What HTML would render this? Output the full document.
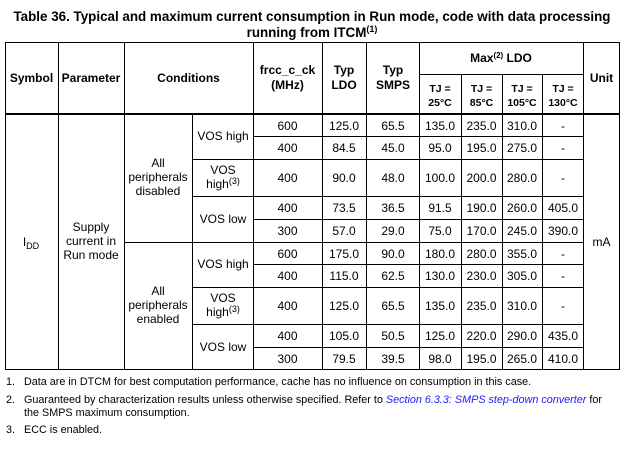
<!DOCTYPE html>
<html><head><meta charset="utf-8"><style>
html,body{margin:0;padding:0;background:#fff;}
svg{display:block;}
text{font-family:"Liberation Sans",Arial,sans-serif;fill:#000;}
.b{font-weight:bold;}
.t{font-size:12px;}
.f{font-size:10.8px;}
</style></head><body>
<svg width="629" height="451" xmlns="http://www.w3.org/2000/svg">
<text class="b" x="312" y="21" font-size="13.4" text-anchor="middle">Table 36. Typical and maximum current consumption in Run mode, code with data processing</text>
<text class="b" x="312" y="37" font-size="13.4" text-anchor="middle">running from ITCM<tspan font-size="9" dy="-5">(1)</tspan></text>
<g stroke="#000" stroke-width="1" shape-rendering="crispEdges">
<line x1="5" y1="42.5" x2="620" y2="42.5"/>
<line x1="419" y1="74.5" x2="583" y2="74.5"/>
<line x1="5" y1="114" x2="620" y2="114" stroke-width="2"/>
<line x1="253" y1="136.5" x2="583" y2="136.5"/>
<line x1="192" y1="159.5" x2="583" y2="159.5"/>
<line x1="192" y1="196.5" x2="583" y2="196.5"/>
<line x1="253" y1="219.5" x2="583" y2="219.5"/>
<line x1="124" y1="242.5" x2="583" y2="242.5"/>
<line x1="253" y1="264.5" x2="583" y2="264.5"/>
<line x1="192" y1="287.5" x2="583" y2="287.5"/>
<line x1="192" y1="324.5" x2="583" y2="324.5"/>
<line x1="253" y1="347.5" x2="583" y2="347.5"/>
<line x1="5" y1="369.5" x2="620" y2="369.5"/>
<line x1="5.5" y1="42" x2="5.5" y2="370"/>
<line x1="58.5" y1="42" x2="58.5" y2="370"/>
<line x1="124.5" y1="42" x2="124.5" y2="370"/>
<line x1="192.5" y1="114" x2="192.5" y2="370"/>
<line x1="253.5" y1="42" x2="253.5" y2="370"/>
<line x1="322.5" y1="42" x2="322.5" y2="370"/>
<line x1="366.5" y1="42" x2="366.5" y2="370"/>
<line x1="419.5" y1="42" x2="419.5" y2="370"/>
<line x1="461.5" y1="74" x2="461.5" y2="370"/>
<line x1="502.5" y1="74" x2="502.5" y2="370"/>
<line x1="542.5" y1="74" x2="542.5" y2="370"/>
<line x1="583.5" y1="42" x2="583.5" y2="370"/>
<line x1="619.5" y1="42" x2="619.5" y2="370"/>
</g>
<g class="t b" text-anchor="middle">
<text x="31.5" y="82">Symbol</text>
<text x="91" y="82">Parameter</text>
<text x="188.5" y="82">Conditions</text>
<text x="287.5" y="74">frcc_c_ck</text>
<text x="287.5" y="89">(MHz)</text>
<text x="344" y="74">Typ</text>
<text x="344" y="89">LDO</text>
<text x="393" y="74">Typ</text>
<text x="393" y="89">SMPS</text>
<text x="501" y="62">Max<tspan font-size="8" dy="-4">(2)</tspan><tspan dy="4"> LDO</tspan></text>
<text x="601.5" y="82">Unit</text>
</g>
<g class="b" font-size="10.5" text-anchor="middle">
<text x="440" y="92">TJ =</text><text x="440" y="106">25°C</text>
<text x="481.5" y="92">TJ =</text><text x="481.5" y="106">85°C</text>
<text x="522" y="92">TJ =</text><text x="522" y="106">105°C</text>
<text x="563" y="92">TJ =</text><text x="563" y="106">130°C</text>
</g>
<g class="t" text-anchor="middle">
<text x="31" y="246">I<tspan font-size="9" dy="3">DD</tspan></text>
<text x="91" y="231">Supply</text><text x="91" y="245">current in</text><text x="91" y="259">Run mode</text>
<text x="158" y="167">All</text><text x="158" y="181">peripherals</text><text x="158" y="195">disabled</text>
<text x="158" y="295">All</text><text x="158" y="309">peripherals</text><text x="158" y="323">enabled</text>
<text x="223" y="140">VOS high</text>
<text x="223" y="174">VOS</text><text x="223" y="188">high<tspan font-size="9" dy="-4">(3)</tspan></text>
<text x="223" y="223">VOS low</text>
<text x="223" y="268">VOS high</text>
<text x="223" y="302">VOS</text><text x="223" y="316">high<tspan font-size="9" dy="-4">(3)</tspan></text>
<text x="223" y="351">VOS low</text>
<text x="601.5" y="246">mA</text>
</g>
<g class="t" text-anchor="middle">
<g transform="translate(0,130)"><text x="287.5">600</text><text x="344">125.0</text><text x="393">65.5</text><text x="440">135.0</text><text x="481.5">235.0</text><text x="522">310.0</text><text x="563">-</text></g>
<g transform="translate(0,152)"><text x="287.5">400</text><text x="344">84.5</text><text x="393">45.0</text><text x="440">95.0</text><text x="481.5">195.0</text><text x="522">275.0</text><text x="563">-</text></g>
<g transform="translate(0,182)"><text x="287.5">400</text><text x="344">90.0</text><text x="393">48.0</text><text x="440">100.0</text><text x="481.5">200.0</text><text x="522">280.0</text><text x="563">-</text></g>
<g transform="translate(0,212)"><text x="287.5">400</text><text x="344">73.5</text><text x="393">36.5</text><text x="440">91.5</text><text x="481.5">190.0</text><text x="522">260.0</text><text x="563">405.0</text></g>
<g transform="translate(0,235)"><text x="287.5">300</text><text x="344">57.0</text><text x="393">29.0</text><text x="440">75.0</text><text x="481.5">170.0</text><text x="522">245.0</text><text x="563">390.0</text></g>
<g transform="translate(0,258)"><text x="287.5">600</text><text x="344">175.0</text><text x="393">90.0</text><text x="440">180.0</text><text x="481.5">280.0</text><text x="522">355.0</text><text x="563">-</text></g>
<g transform="translate(0,280)"><text x="287.5">400</text><text x="344">115.0</text><text x="393">62.5</text><text x="440">130.0</text><text x="481.5">230.0</text><text x="522">305.0</text><text x="563">-</text></g>
<g transform="translate(0,310)"><text x="287.5">400</text><text x="344">125.0</text><text x="393">65.5</text><text x="440">135.0</text><text x="481.5">235.0</text><text x="522">310.0</text><text x="563">-</text></g>
<g transform="translate(0,340)"><text x="287.5">400</text><text x="344">105.0</text><text x="393">50.5</text><text x="440">125.0</text><text x="481.5">220.0</text><text x="522">290.0</text><text x="563">435.0</text></g>
<g transform="translate(0,363)"><text x="287.5">300</text><text x="344">79.5</text><text x="393">39.5</text><text x="440">98.0</text><text x="481.5">195.0</text><text x="522">265.0</text><text x="563">410.0</text></g>
</g>
<g class="f">
<text x="6" y="385">1.</text><text x="24" y="385">Data are in DTCM for best computation performance, cache has no influence on consumption in this case.</text>
<text x="6" y="403">2.</text><text x="24" y="403">Guaranteed by characterization results unless otherwise specified. Refer to <tspan fill="#1a1aff" font-style="italic">Section 6.3.3: SMPS step-down converter</tspan> for</text>
<text x="24" y="416">the SMPS maximum consumption.</text>
<text x="6" y="433">3.</text><text x="24" y="433">ECC is enabled.</text>
</g>
</svg>
</body></html>
